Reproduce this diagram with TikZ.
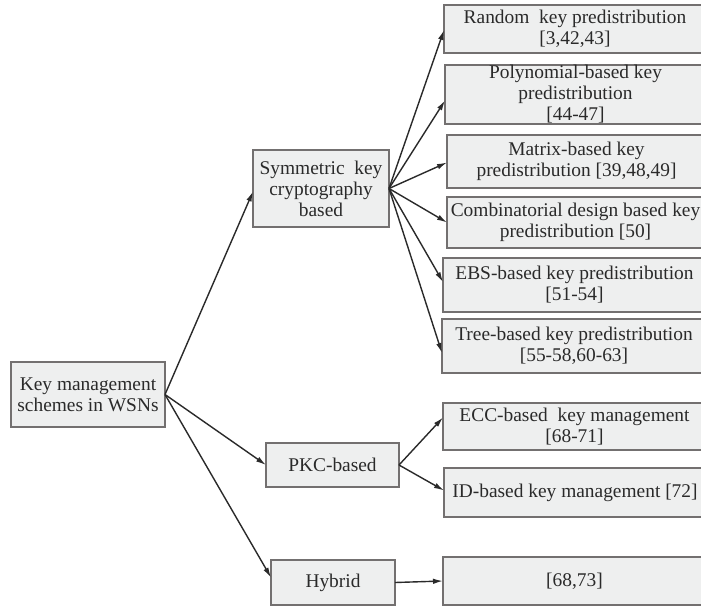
\documentclass[tikz,border=0pt]{standalone}
\usepackage{fontspec}
\setmainfont{Liberation Serif}
\usetikzlibrary{arrows.meta}
\definecolor{boxfill}{HTML}{EEEFEF}
\definecolor{boxline}{HTML}{737070}
\definecolor{ink}{HTML}{2A2A2A}
\begin{document}
\begin{tikzpicture}[x=1pt,y=-1pt,
  box/.style={draw=boxline, line width=2pt, fill=boxfill, text=ink,
    inner sep=0pt, outer sep=0pt, anchor=north west, align=center,
    font=\fontsize{19.4}{21}\selectfont},
  arr/.style={draw=ink, line width=1.4pt,
    -{Latex[length=10pt,width=5.5pt]}}]
\useasboundingbox (0,0) rectangle (701,607);
\clip (0,0) rectangle (701,607);
\fill[white] (0,0) rectangle (701,607);

% root and second level
\node[box, minimum width=154pt, minimum height=65pt] (root) at (11,362)
  {Key management\\schemes in WSNs};
\node[box, minimum width=136pt, minimum height=77pt] (sym) at (253,150)
  {Symmetric\ \ key\\cryptography\\based};
\node[box, minimum width=133pt, minimum height=44pt] (pkc) at (266,443)
  {PKC-based};
\node[box, minimum width=124pt, minimum height=45pt] (hyb) at (271,560)
  {Hybrid};

% leaves (they run off the right edge)
\node[box, minimum width=262pt, minimum height=48pt] (r1) at (444,5)
  {Random\ \ key predistribution\\[0pt][3,42,43]};
\node[box, minimum width=261pt, minimum height=59pt] (r2) at (445,65)
  {Polynomial-based key\\predistribution\\[0pt][44-47]};
\node[box, minimum width=259pt, minimum height=53pt] (r3) at (447,135)
  {Matrix-based key\\predistribution [39,48,49]};
\node[box, minimum width=257pt, minimum height=51pt] (r4) at (447,197)
  {Combinatorial design based key\\predistribution [50]};
\node[box, minimum width=263pt, minimum height=54pt] (r5) at (443,258)
  {EBS-based key predistribution\\[0pt][51-54]};
\node[box, minimum width=264pt, minimum height=54pt] (r6) at (442,319)
  {Tree-based key predistribution\\[0pt][55-58,60-63]};
\node[box, minimum width=263pt, minimum height=47pt] (r7) at (443,403)
  {ECC-based\ \ key management\\[0pt][68-71]};
\node[box, minimum width=262pt, minimum height=49pt] (r8) at (444,468)
  {ID-based key management [72]};
\node[box, minimum width=263pt, minimum height=48pt] (r9) at (443,557)
  {[68,73]};

% connectors
\draw[arr] (root.east) -- ([yshift=-3pt]sym.west);
\draw[arr] (root.east) -- (pkc.west);
\draw[arr] (root.east) -- ([yshift=5pt]hyb.west);

\draw[arr] (sym.east) -- ([yshift=-1pt]r1.west);
\draw[arr] (sym.east) -- ([yshift=-6pt]r2.west);
\draw[arr] (sym.east) -- ([yshift=-1pt]r3.west);
\draw[arr] (sym.east) -- (r4.west);
\draw[arr] (sym.east) -- ([yshift=3pt]r5.west);
\draw[arr] (sym.east) -- ([yshift=-7pt]r6.west);

\draw[arr] (pkc.east) -- ([yshift=9pt]r7.west);
\draw[arr] (pkc.east) -- ([yshift=2pt]r8.west);

\draw[arr] (hyb.east) -- (r9.west);
\end{tikzpicture}
\end{document}
